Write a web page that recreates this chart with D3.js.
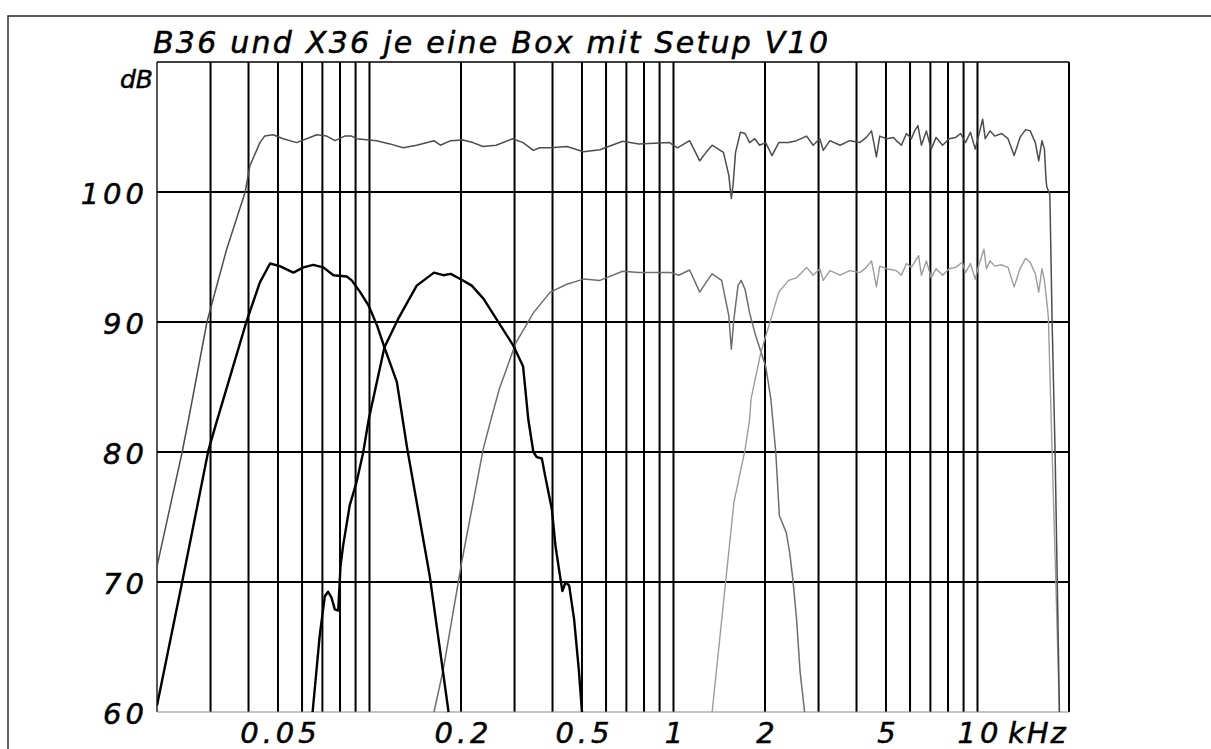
<!DOCTYPE html>
<html>
<head>
<meta charset="utf-8">
<script src="https://cdn.jsdelivr.net/npm/d3@7"></script>
<style>
  html, body { margin: 0; padding: 0; background: #fff; }
  svg { display: block; }
  .lbl { font-family: "DejaVu Sans", sans-serif; font-style: italic; fill: #000; stroke: #000; stroke-width: 0.5px; }
</style>
</head>
<body>
<svg id="chart" width="1211" height="749"></svg>
<script>
// Frequency response, B36 + X36 with setup V10 (kHz / dB SPL)
const titleText = "B36 und X36 je eine Box mit Setup V10";
const yTicks = [60, 70, 80, 90, 100];
const xGrid = [0.03, 0.04, 0.05, 0.06, 0.07, 0.08, 0.09, 0.1,
               0.2, 0.3, 0.4, 0.5, 0.6, 0.7, 0.8, 0.9, 1,
               2, 3, 4, 5, 6, 7, 8, 9, 10];
const xLabels = [0.05, 0.2, 0.5, 1, 2, 5, 10];

// summed response of both boxes
const sumCurve = [
  [0.02, 71.2], [0.0242, 80.0], [0.0254, 82.5], [0.0292, 90.0], [0.0339, 95.6],
  [0.039, 100.0], [0.0404, 102.0], [0.0436, 103.8], [0.0452, 104.3], [0.0482, 104.4],
  [0.052, 104.1], [0.0576, 103.8], [0.0621, 104.1], [0.0671, 104.4], [0.0723, 104.3],
  [0.077, 103.95], [0.0829, 104.3], [0.0874, 104.3], [0.0907, 104.1], [0.1055, 103.95],
  [0.1168, 103.7], [0.129, 103.4], [0.143, 103.6], [0.163, 103.95], [0.171, 103.6],
  [0.185, 103.95], [0.203, 104.0], [0.219, 103.8], [0.236, 103.5], [0.261, 103.6],
  [0.296, 104.1], [0.32, 103.8], [0.346, 103.2], [0.363, 103.4], [0.393, 103.4],
  [0.446, 103.5], [0.506, 103.1], [0.573, 103.25], [0.68, 103.9], [0.77, 103.7],
  [0.97, 103.8], [1.03, 103.4], [1.13, 103.95], [1.22, 102.4], [1.28, 103.05],
  [1.34, 103.6], [1.46, 103.05], [1.52, 101.3], [1.55, 99.5], [1.57, 100.5],
  [1.6, 103.05], [1.66, 104.6], [1.72, 104.5], [1.78, 103.8], [1.85, 104.1],
  [1.92, 103.6], [2.01, 103.8], [2.11, 102.8], [2.22, 103.8], [2.39, 103.8],
  [2.54, 103.95], [2.74, 104.3], [2.88, 103.6], [3.03, 104.1], [3.11, 103.2],
  [3.27, 103.95], [3.53, 103.6], [3.8, 103.95], [4.1, 103.8], [4.31, 104.2],
  [4.48, 104.7], [4.56, 103.8], [4.65, 102.7], [4.77, 104.3], [5.02, 104.1],
  [5.3, 104.2], [5.41, 103.95], [5.62, 103.6], [5.84, 104.5], [6.06, 104.1],
  [6.21, 104.7], [6.37, 105.1], [6.54, 103.6], [6.79, 104.7], [7.04, 103.3],
  [7.31, 104.2], [7.68, 103.6], [8.07, 104.1], [8.48, 104.2], [8.8, 104.5],
  [9.13, 103.8], [9.48, 104.6], [9.83, 103.3], [10.08, 104.3], [10.4, 105.6],
  [10.6, 104.1], [11.0, 104.7], [11.4, 104.3], [12.0, 104.5], [12.6, 104.1],
  [13.2, 102.8], [13.8, 104.2], [14.4, 104.8], [14.9, 104.7], [15.5, 103.8],
  [15.9, 102.4], [16.3, 103.95], [16.6, 103.3], [16.8, 101.0], [16.9, 100.4],
  [17.3, 99.8], [17.6, 90.0], [18.0, 80.0], [18.3, 70.0], [18.6, 60.0]
];

// bass driver
const wooferCurve = [
  [0.02, 60.5], [0.0242, 70.0], [0.0295, 80.1], [0.0314, 82.3], [0.0394, 90.05],
  [0.0436, 93.05], [0.0471, 94.5], [0.0507, 94.3], [0.0562, 93.8], [0.0606, 94.2],
  [0.0653, 94.4], [0.0705, 94.2], [0.0761, 93.6], [0.0842, 93.5], [0.0874, 93.2],
  [0.0932, 92.3], [0.0994, 91.25], [0.106, 89.7], [0.112, 88.05], [0.123, 85.4],
  [0.133, 80.3], [0.158, 70.4], [0.171, 64.6], [0.182, 60.0]
];

// low-mid driver
const lowMidCurve = [
  [0.065, 60.0], [0.0686, 65.9], [0.0713, 68.9], [0.0731, 69.25], [0.075, 68.8],
  [0.0769, 67.9], [0.0789, 67.8], [0.0803, 71.25], [0.0819, 72.8], [0.0861, 75.9],
  [0.0907, 77.7], [0.0954, 80.0], [0.0994, 82.5], [0.112, 88.05], [0.124, 90.2],
  [0.143, 92.8], [0.163, 93.8], [0.175, 93.6], [0.185, 93.7], [0.201, 93.25],
  [0.217, 92.8], [0.237, 91.8], [0.262, 90.2], [0.297, 88.2], [0.32, 86.6],
  [0.333, 82.5], [0.346, 80.0], [0.355, 79.6], [0.369, 79.5], [0.378, 78.2],
  [0.398, 75.6], [0.409, 72.8], [0.42, 71.0], [0.431, 69.3], [0.442, 70.0],
  [0.454, 69.7], [0.471, 67.15], [0.488, 63.3], [0.5, 60.0]
];

// mid driver
const midCurve = [
  [0.163, 60.0], [0.175, 63.3], [0.201, 71.5], [0.237, 80.3], [0.251, 82.5],
  [0.267, 84.8], [0.303, 88.4], [0.346, 90.7], [0.393, 92.3], [0.446, 92.9],
  [0.506, 93.3], [0.573, 93.2], [0.68, 93.9], [0.77, 93.8], [0.98, 93.8],
  [1.04, 93.6], [1.13, 94.0], [1.22, 92.3], [1.28, 93.05], [1.34, 93.7],
  [1.44, 93.2], [1.52, 90.5], [1.55, 87.9], [1.58, 90.2], [1.63, 92.8],
  [1.67, 93.2], [1.72, 92.5], [1.78, 90.7], [1.85, 89.2], [1.94, 87.7],
  [2.01, 86.6], [2.09, 84.1], [2.17, 80.0], [2.23, 75.1], [2.35, 73.8],
  [2.41, 72.3], [2.47, 70.2], [2.54, 67.15], [2.61, 63.05], [2.7, 60.0]
];

// tweeter
const tweeterCurve = [
  [1.34, 60.0], [1.48, 69.7], [1.58, 76.1], [1.72, 80.2], [1.78, 82.5],
  [1.8, 84.1], [1.94, 87.7], [2.09, 90.2], [2.22, 92.3], [2.39, 93.2],
  [2.54, 93.4], [2.74, 94.2], [2.88, 93.6], [3.03, 94.1], [3.11, 93.2],
  [3.27, 93.95], [3.53, 93.6], [3.8, 93.95], [4.1, 93.8], [4.31, 94.2],
  [4.48, 94.7], [4.56, 93.8], [4.65, 92.7], [4.77, 94.3], [5.02, 94.1],
  [5.41, 93.95], [5.62, 93.6], [5.84, 94.5], [6.06, 94.2], [6.21, 94.6],
  [6.4, 95.1], [6.54, 93.6], [6.79, 94.7], [7.04, 93.4], [7.31, 94.1],
  [7.68, 93.6], [8.07, 94.1], [8.48, 94.2], [8.91, 94.6], [9.13, 93.8],
  [9.48, 94.5], [9.83, 93.3], [10.08, 94.3], [10.5, 95.6], [10.7, 94.1],
  [11.0, 94.7], [11.4, 94.3], [12.0, 94.4], [12.6, 94.2], [13.2, 92.7],
  [13.8, 94.1], [14.4, 94.9], [14.9, 94.6], [15.5, 93.7], [15.9, 92.3],
  [16.3, 94.1], [16.6, 93.2], [16.9, 91.6], [17.1, 90.4], [17.6, 80.0],
  [18.1, 70.0], [18.6, 60.0]
];

const svg = d3.select("#chart");
const x = d3.scaleLog().domain([0.02, 20]).range([157, 1069]);
const y = d3.scaleLinear().domain([60, 110]).range([712, 62]);
const [x0, x1] = x.range();
const [yb, yt] = y.range();

// outer frame
svg.append("path")
  .attr("d", `M8,760 V16 H1225`)
  .attr("fill", "none").attr("stroke", "#222").attr("stroke-width", 1.4);

// title
svg.append("text").attr("class", "lbl")
  .attr("x", 153).attr("y", 53)
  .attr("font-size", 30)
  .attr("textLength", 675).attr("lengthAdjust", "spacing")
  .text(titleText);

// grid
const grid = svg.append("g");
grid.selectAll("line.v").data(xGrid).join("line")
  .attr("x1", d => x(d)).attr("x2", d => x(d))
  .attr("y1", yt).attr("y2", yb)
  .attr("stroke", "#000").attr("stroke-width", 2);
grid.selectAll("line.h").data(yTicks.filter(d => d > 60)).join("line")
  .attr("x1", x0).attr("x2", x1)
  .attr("y1", d => y(d)).attr("y2", d => y(d))
  .attr("stroke", "#000").attr("stroke-width", 2);

// plot border
svg.append("line").attr("x1", x0).attr("x2", x0).attr("y1", yt).attr("y2", yb)
  .attr("stroke", "#000").attr("stroke-width", 1.3);
svg.append("line").attr("x1", x0).attr("x2", x1).attr("y1", yt).attr("y2", yt)
  .attr("stroke", "#000").attr("stroke-width", 1.5);
svg.append("line").attr("x1", x1).attr("x2", x1).attr("y1", yt).attr("y2", yb)
  .attr("stroke", "#000").attr("stroke-width", 2);
svg.append("line").attr("x1", x0).attr("x2", x1).attr("y1", yb).attr("y2", yb)
  .attr("stroke", "#8a8a8a").attr("stroke-width", 1.2);

// y axis labels
const yAxis = d3.axisLeft(y).tickValues(yTicks).tickSize(0).tickPadding(9)
  .tickFormat(d3.format("d"));
const gy = svg.append("g").attr("transform", `translate(${x0},0)`).call(yAxis);
gy.select(".domain").remove();
gy.selectAll("text").attr("class", "lbl")
  .attr("font-size", 29).attr("letter-spacing", 4).attr("dy", "0.38em");

// x axis labels
const xAxis = d3.axisBottom(x).tickValues(xLabels).tickSize(0).tickPadding(0)
  .tickFormat(d => String(d));
const gx = svg.append("g").attr("transform", `translate(0,${yb})`).call(xAxis);
gx.select(".domain").remove();
gx.selectAll("text").attr("class", "lbl")
  .attr("font-size", 29).attr("letter-spacing", 4)
  .attr("y", 31).attr("dy", 0).attr("dx", 2);

svg.append("text").attr("class", "lbl")
  .attr("x", 1008).attr("y", yb + 31).attr("font-size", 29).attr("letter-spacing", 2)
  .text("kHz");

svg.append("text").attr("class", "lbl")
  .attr("x", 153).attr("y", 88).attr("font-size", 25)
  .attr("text-anchor", "end")
  .text("dB");

// curves
svg.append("clipPath").attr("id", "plotClip")
  .append("rect").attr("x", x0).attr("y", yt).attr("width", x1 - x0).attr("height", yb - yt + 1);

const line = d3.line().x(d => x(d[0])).y(d => y(d[1]));
const curves = svg.append("g").attr("clip-path", "url(#plotClip)");
const series = [
  { data: midCurve, color: "#6e6e6e", width: 1.5 },
  { data: tweeterCurve, color: "#9c9c9c", width: 1.4 },
  { data: sumCurve, color: "#4d4d4d", width: 1.5 },
  { data: wooferCurve, color: "#000", width: 2.4 },
  { data: lowMidCurve, color: "#000", width: 2.4 }
];
curves.selectAll("path").data(series).join("path")
  .attr("d", d => line(d.data))
  .attr("fill", "none")
  .attr("stroke", d => d.color)
  .attr("stroke-width", d => d.width)
  .attr("stroke-linejoin", "round");
</script>
</body>
</html>
